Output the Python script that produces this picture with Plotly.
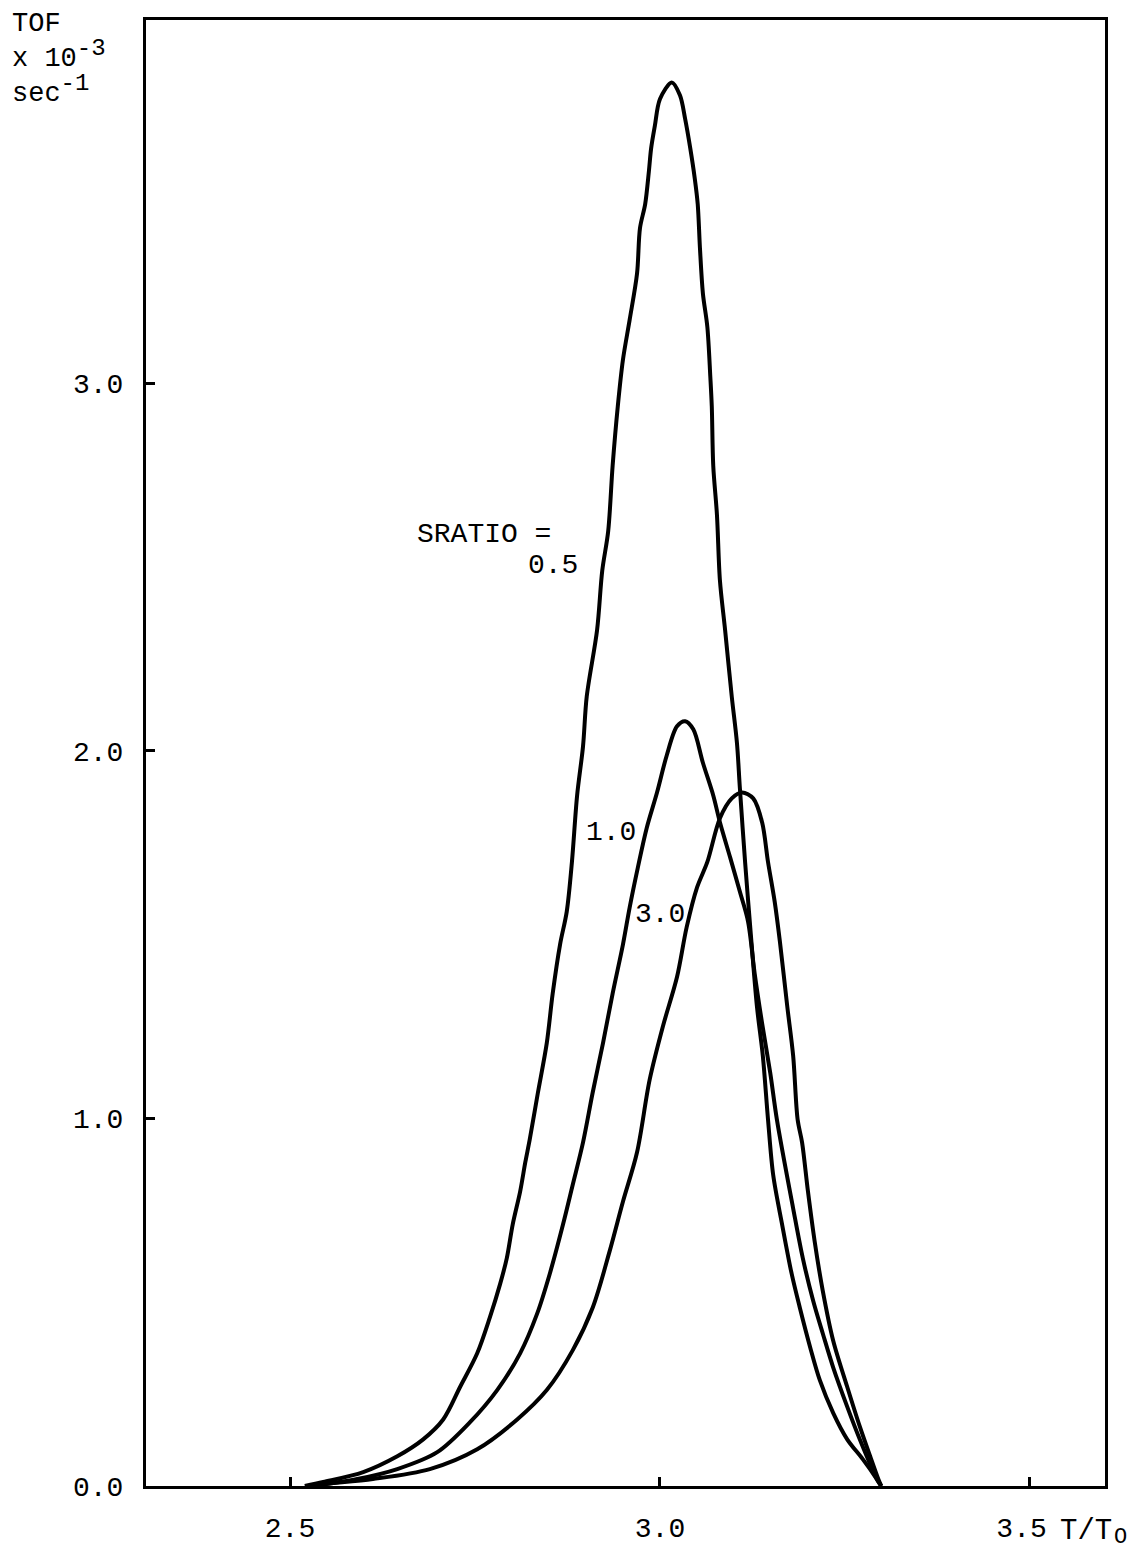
import plotly.graph_objects as go

# ---- data ----
x_05 = [2.52, 2.545, 2.599, 2.645, 2.680, 2.707, 2.730, 2.753, 2.770, 2.784, 2.793, 2.801, 2.811, 2.818,
        2.824, 2.835, 2.847, 2.855, 2.865, 2.874, 2.881, 2.888, 2.896, 2.901, 2.915, 2.922, 2.930, 2.936,
        2.943, 2.950, 2.959, 2.969, 2.973, 2.980, 2.985, 2.988, 2.993, 3.000, 3.016, 3.027, 3.034, 3.041,
        3.047, 3.051, 3.054, 3.058, 3.064, 3.068, 3.070, 3.072, 3.077, 3.081, 3.088, 3.097, 3.104, 3.108,
        3.115, 3.122, 3.131, 3.139, 3.146, 3.153, 3.165, 3.178, 3.189, 3.203, 3.216, 3.234, 3.253, 3.274,
        3.293, 3.299]
y_05 = [0.0, 0.011, 0.038, 0.081, 0.127, 0.181, 0.270, 0.361, 0.458, 0.550, 0.620, 0.712, 0.801, 0.881,
        0.943, 1.070, 1.205, 1.340, 1.474, 1.563, 1.698, 1.879, 2.013, 2.148, 2.329, 2.491, 2.598, 2.776,
        2.938, 3.065, 3.173, 3.299, 3.423, 3.488, 3.577, 3.639, 3.700, 3.774, 3.819, 3.784, 3.720, 3.639,
        3.558, 3.488, 3.369, 3.245, 3.154, 3.019, 2.938, 2.776, 2.642, 2.464, 2.329, 2.148, 2.022, 1.898,
        1.698, 1.520, 1.305, 1.170, 0.997, 0.846, 0.712, 0.577, 0.485, 0.377, 0.288, 0.199, 0.127, 0.073,
        0.019, 0.0]

x_10 = [2.53, 2.591, 2.645, 2.699, 2.743, 2.780, 2.811, 2.834, 2.851, 2.869, 2.882, 2.896, 2.909, 2.923,
        2.936, 2.950, 2.959, 2.970, 2.982, 2.996, 3.009, 3.023, 3.034, 3.045, 3.058, 3.072, 3.081, 3.095,
        3.108, 3.119, 3.128, 3.138, 3.149, 3.158, 3.180, 3.193, 3.207, 3.220, 3.234, 3.253, 3.270,
        3.293, 3.299]
y_10 = [0.0, 0.019, 0.046, 0.092, 0.173, 0.261, 0.361, 0.469, 0.577, 0.712, 0.819, 0.935, 1.070, 1.205,
        1.340, 1.474, 1.574, 1.682, 1.790, 1.887, 1.987, 2.067, 2.081, 2.059, 1.968, 1.879, 1.806, 1.709,
        1.617, 1.536, 1.394, 1.259, 1.124, 0.997, 0.755, 0.620, 0.504, 0.415, 0.323, 0.216, 0.127,
        0.019, 0.0]

x_30 = [2.53, 2.545, 2.612, 2.689, 2.753, 2.807, 2.847, 2.882, 2.909, 2.932, 2.950, 2.969, 2.986, 3.004,
        3.023, 3.036, 3.050, 3.064, 3.081, 3.097, 3.111, 3.126, 3.138, 3.146, 3.155, 3.162, 3.172, 3.180,
        3.186, 3.192, 3.200, 3.209, 3.220, 3.234, 3.253, 3.270, 3.284, 3.295, 3.299]
y_30 = [0.0, 0.005, 0.019, 0.046, 0.100, 0.181, 0.261, 0.369, 0.485, 0.639, 0.774, 0.908, 1.105, 1.251,
        1.385, 1.520, 1.628, 1.698, 1.817, 1.871, 1.887, 1.871, 1.806, 1.698, 1.590, 1.482, 1.305, 1.170,
        0.997, 0.935, 0.801, 0.666, 0.531, 0.396, 0.270, 0.162, 0.081, 0.019, 0.0]

x_ticks = [2.5, 3.0, 3.5]
x_tick_labels = ["2.5", "3.0", "3.5&nbsp;"]
y_ticks = [0.0, 1.0, 2.0, 3.0]
y_tick_labels = ["0.0", "1.0", "2.0", "3.0"]

curve_labels = [
    # text, x, y, xanchor
    ("SRATIO =", 2.669, 2.588, "left"),
    ("0.5", 2.892, 2.504, "right"),
    ("1.0", 2.970, 1.779, "right"),
    ("3.0", 3.036, 1.555, "right"),
]

FONT = "Liberation Mono, Courier New, monospace"

# page body has an 8px margin: size the figure so the page fits the window exactly
OFF = 8
W, H = 1141 - 2 * OFF, 1562 - 2 * OFF
# plot-area edges in page pixels
PL, PR, PT, PB = 146, 1105, 17, 1497
L, R, T, B = PL - OFF, (W + OFF) - PR, PT - OFF, (H + OFF) - PB


def px(xp):
    return (xp - PL) / (PR - PL)


def py(yp):
    return (PB - yp) / (PB - PT)


fig = go.Figure()
for xs, ys, name in [(x_05, y_05, "0.5"), (x_10, y_10, "1.0"), (x_30, y_30, "3.0")]:
    fig.add_trace(go.Scatter(
        x=xs, y=ys, mode="lines", name=name,
        line=dict(color="black", width=4, shape="spline", smoothing=0.9),
        showlegend=False, hoverinfo="skip"))

for text, x, y, xa in curve_labels:
    fig.add_annotation(x=x, y=y, xref="x", yref="y", text=text, showarrow=False,
                       xanchor=xa, yanchor="middle", font=dict(family=FONT, size=28, color="black"))

# y-axis title block
sup = "<sup><span style='font-size:24px'>{}</span></sup>"
y_title = "TOF<br>x 10" + sup.format("-3") + "<br>sec" + sup.format("-1")
fig.add_annotation(x=px(10), y=py(4), xref="paper", yref="paper", text=y_title,
                   showarrow=False, xanchor="left", yanchor="top", align="left",
                   font=dict(family=FONT, size=27, color="black"))

# x-axis title
fig.add_annotation(x=px(1058), y=py(1543), xref="paper", yref="paper", text="T/T",
                   showarrow=False, xanchor="left", yanchor="middle",
                   font=dict(family=FONT, size=29, color="black"))
fig.add_annotation(x=px(1112), y=py(1549), xref="paper", yref="paper", text="O",
                   showarrow=False, xanchor="left", yanchor="middle",
                   font=dict(family=FONT, size=22, color="black"))

fig.update_layout(
    width=W, height=H,
    margin=dict(l=L, r=R, t=T, b=B, pad=0),
    paper_bgcolor="white", plot_bgcolor="white",
    font=dict(family=FONT, size=28, color="black"),
)
fig.update_xaxes(range=[2.3054, 3.6014], tickvals=x_ticks, ticktext=x_tick_labels,
                 ticks="inside", ticklen=9, tickwidth=3, tickcolor="black",
                 showline=True, linewidth=3, linecolor="black", mirror=True,
                 showgrid=False, zeroline=False, ticklabelstandoff=14,
                 tickfont=dict(family=FONT, size=28))
fig.update_yaxes(range=[0, 3.989], tickvals=y_ticks, ticktext=y_tick_labels,
                 ticks="inside", ticklen=9, tickwidth=3, tickcolor="black",
                 showline=True, linewidth=3, linecolor="black", mirror=True,
                 showgrid=False, zeroline=False, ticklabelstandoff=14,
                 tickfont=dict(family=FONT, size=28))

fig.write_html("out.html")
